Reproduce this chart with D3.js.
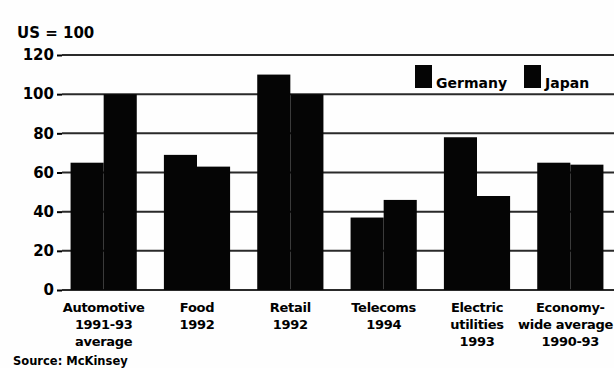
<!DOCTYPE html>
<html>
<head>
<meta charset="utf-8">
<script src="https://cdn.jsdelivr.net/npm/d3@7"></script>
<style>
  html, body { margin: 0; padding: 0; background: #fff; }
  svg { display: block; }
  text { font-family: "DejaVu Sans", sans-serif; font-weight: bold; fill: #000; }
</style>
</head>
<body>
<svg id="chart" width="614" height="368"></svg>
<script>
const categories = [
  ["Automotive", "1991-93", "average"],
  ["Food", "1992"],
  ["Retail", "1992"],
  ["Telecoms", "1994"],
  ["Electric", "utilities", "1993"],
  ["Economy-", "wide average", "1990-93"]
];
const seriesNames = ["Germany", "Japan"];
const germany = [65, 69, 110, 37, 78, 65];
const japan = [100, 63, 100, 46, 48, 64];
const yTicks = [0, 20, 40, 60, 80, 100, 120];
const unitLabel = "US = 100";
const sourceLabel = "Source: McKinsey";

const svg = d3.select("#chart");
const W = 614, H = 368;
svg.append("rect").attr("width", W).attr("height", H).attr("fill", "#fefefe");

const y = d3.scaleLinear().domain([0, 120]).range([290, 55]);
const x0 = d3.scaleBand().domain(d3.range(categories.length)).range([57, 617]).padding(0);
const x1 = d3.scaleBand().domain(seriesNames).range([0, x0.bandwidth()]).paddingInner(0).paddingOuter(0.41);

const gridLeft = 62, gridRight = 614;

// gridlines
svg.append("g").selectAll("line").data(yTicks).join("line")
  .attr("x1", gridLeft).attr("x2", gridRight)
  .attr("y1", d => y(d)).attr("y2", d => y(d))
  .attr("stroke", "#2a2a2a").attr("stroke-width", 2);

// y axis ticks + labels
const yAxis = d3.axisLeft(y).tickValues(yTicks).tickSize(5).tickPadding(3);
const gy = svg.append("g").attr("transform", `translate(${gridLeft},0)`).call(yAxis);
gy.select(".domain").remove();
gy.selectAll(".tick line").attr("stroke", "#000").attr("stroke-width", 2);
gy.selectAll(".tick text")
  .attr("font-family", "DejaVu Sans").attr("font-weight", "bold")
  .attr("font-size", 15).attr("fill", "#000");

// bars
const rows = categories.map((c, i) => ({ i, vals: [germany[i], japan[i]] }));
const groups = svg.append("g").selectAll("g").data(rows).join("g")
  .attr("transform", d => `translate(${x0(d.i)},0)`);
groups.selectAll("rect").data(d => d.vals.map((v, k) => ({ name: seriesNames[k], v })))
  .join("rect")
  .attr("x", d => x1(d.name))
  .attr("width", x1.bandwidth())
  .attr("y", d => y(d.v))
  .attr("height", d => y(0) - y(d.v))
  .attr("fill", "#050505");

// category labels (each line kept inside the picture)
const xl = svg.append("g");
categories.forEach((lines, i) => {
  const cx = x0(i) + x0.bandwidth() / 2;
  lines.forEach((ln, j) => {
    const t = xl.append("text").attr("text-anchor", "middle").attr("font-size", 13)
      .attr("letter-spacing", -0.3)
      .attr("x", cx).attr("y", 312 + j * 17).text(ln);
    const w = t.node().getComputedTextLength();
    if (cx + w / 2 > W - 1) t.attr("x", W - 1 - w / 2);
  });
});

// unit label
svg.append("text").attr("x", 17).attr("y", 38).attr("font-size", 15).text(unitLabel);

// legend
const legendX = [415, 524];
seriesNames.forEach((n, k) => {
  svg.append("rect").attr("x", legendX[k]).attr("y", 65).attr("width", 17).attr("height", 23).attr("fill", "#050505");
  svg.append("text").attr("x", legendX[k] + 21).attr("y", 88).attr("font-size", 14).text(n);
});

// source
svg.append("text").attr("x", 13).attr("y", 365).attr("font-size", 11.5).text(sourceLabel);
</script>
</body>
</html>
